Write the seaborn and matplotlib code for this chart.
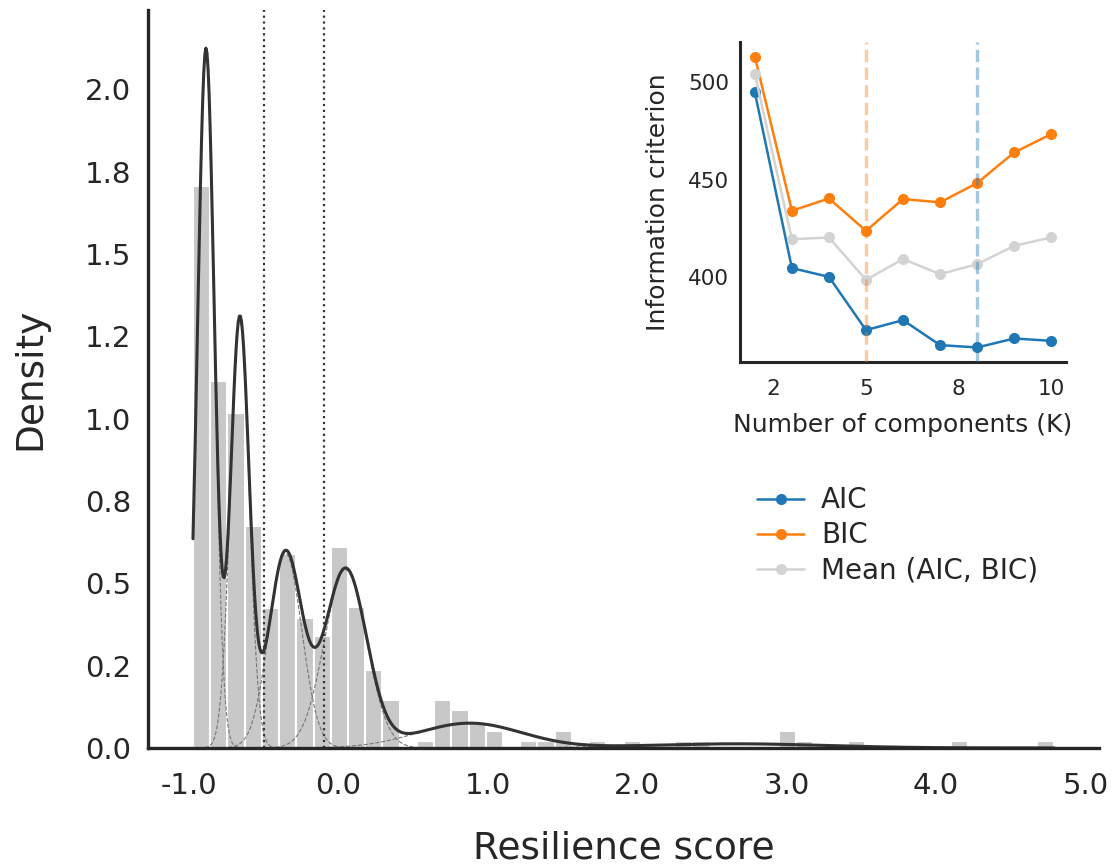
import numpy as np
import pandas as pd
import seaborn as sns
import matplotlib
matplotlib.use('Agg')
import matplotlib.pyplot as plt
from matplotlib.ticker import MultipleLocator, FormatStrFormatter

# histogram of resilience scores (density per bin)
bin_start = -0.970
bin_width = 0.1152
bar_heights = [1.707, 1.113, 1.018, 0.674, 0.426, 0.590, 0.396, 0.340, 0.610, 0.427,
               0.238, 0.145, 0.000, 0.022, 0.145, 0.115, 0.078, 0.053, 0.000, 0.022,
               0.022, 0.053, 0.000, 0.022, 0.000, 0.022, 0.000, 0.000, 0.022, 0.022,
               0.000, 0.000, 0.000, 0.000, 0.053, 0.022, 0.000, 0.000, 0.022, 0.000,
               0.000, 0.000, 0.000, 0.000, 0.022, 0.000, 0.000, 0.000, 0.000, 0.022]

# gaussian mixture components fitted on the scores
comp_means = [-0.883, -0.657, -0.352, 0.050, 0.880, 2.660]
comp_sds = [0.056, 0.062, 0.110, 0.140, 0.350, 0.600]
comp_weights = [0.298, 0.202, 0.163, 0.190, 0.066, 0.019]

# cluster boundaries
thresholds = [-0.495, -0.096]

# model selection (inset)
n_components = [2, 3, 4, 5, 6, 7, 8, 9, 10]
aic = [494.9, 404.8, 400.3, 373.0, 378.1, 365.3, 364.1, 368.7, 367.5]
bic = [513.3, 434.2, 440.5, 423.9, 440.2, 438.5, 448.4, 464.1, 473.5]
mean_ic = [504.3, 419.6, 420.5, 398.8, 409.4, 401.7, 406.8, 416.2, 420.5]
best_bic_k = 5
best_aic_k = 8


def gauss(x, mu, sd, w):
    return w * np.exp(-0.5 * ((x - mu) / sd) ** 2) / (sd * np.sqrt(2 * np.pi))


sns.set_style('white')
plt.rcParams['axes.edgecolor'] = '#262626'
plt.rcParams['text.color'] = '#262626'

fig = plt.figure(figsize=(11.15, 8.65), dpi=100)
ax = fig.add_axes([0.1327, 0.1353, 0.853, 0.853])

edges = bin_start + bin_width * np.arange(len(bar_heights) + 1)
hist_df = pd.DataFrame({'score': (edges[:-1] + edges[1:]) / 2,
                        'height': bar_heights})
sns.histplot(data=hist_df, x='score', weights='height', bins=list(edges),
             stat='count', color='#c8c8c8', edgecolor='white', linewidth=1.5,
             alpha=1, ax=ax)

xs = np.linspace(edges[0], edges[-1], 800)
total = np.zeros_like(xs)
for mu, sd, w in zip(comp_means, comp_sds, comp_weights):
    comp = gauss(xs, mu, sd, w)
    total += comp
    sns.lineplot(x=xs, y=comp, color='#777777', lw=0.8, ls='--', ax=ax)
sns.lineplot(x=xs, y=total, color='#333333', lw=2.2, ax=ax)

for t in thresholds:
    ax.axvline(t, color='#333333', ls=':', lw=1.6)

ax.set_xlim(-1.271, 5.09)
ax.set_ylim(0, 2.24)
ax.xaxis.set_major_locator(MultipleLocator(1))
ax.xaxis.set_major_formatter(FormatStrFormatter('%.1f'))
ax.yaxis.set_major_locator(MultipleLocator(0.25))
ax.yaxis.set_major_formatter(FormatStrFormatter('%.1f'))
ax.tick_params(length=0, labelsize=21, pad=12)
ax.tick_params(axis='x', pad=17)
ax.set_xlabel('Resilience score', fontsize=27, labelpad=22)
ax.set_ylabel('Density', fontsize=27, labelpad=26)
sns.despine(ax=ax)
for s in ['left', 'bottom']:
    ax.spines[s].set_linewidth(2.4)

# inset: information criteria vs K
ins = fig.add_axes([0.6637, 0.5815, 0.2924, 0.37])
sns.lineplot(x=n_components, y=aic, color='#1f77b4', marker='o', markersize=8,
             markeredgewidth=0, lw=1.8, label='AIC', ax=ins)
sns.lineplot(x=n_components, y=bic, color='#ff7f0e', marker='o', markersize=8,
             markeredgewidth=0, lw=1.8, label='BIC', ax=ins)
sns.lineplot(x=n_components, y=mean_ic, color='lightgray', marker='o', markersize=8,
             markeredgewidth=0, lw=1.8, label='Mean (AIC, BIC)', ax=ins)
ins.axvline(best_bic_k, color='#ff7f0e', alpha=0.4, ls='--', lw=2.4, zorder=5)
ins.axvline(best_aic_k, color='#1f77b4', alpha=0.4, ls='--', lw=2.4, zorder=5)
ins.xaxis.set_major_locator(MultipleLocator(2.5))
ins.xaxis.set_major_formatter(FormatStrFormatter('%.0f'))
ins.yaxis.set_major_locator(MultipleLocator(50))
ins.tick_params(length=0, labelsize=15.5, pad=8)
ins.tick_params(axis='x', pad=12)
ins.set_xlabel('Number of components (K)', fontsize=18, labelpad=10)
ins.set_ylabel('Information criterion', fontsize=18, labelpad=13)
sns.despine(ax=ins)
for s in ['left', 'bottom']:
    ins.spines[s].set_linewidth(2.2)

handles, labels = ins.get_legend_handles_labels()
ins.get_legend().remove()
fig.legend(handles, labels, loc='center left', bbox_to_anchor=(0.679, 0.381),
           frameon=False, fontsize=20, handlelength=1.7, handletextpad=0.6,
           labelspacing=0.25, borderpad=0, borderaxespad=0)

fig.savefig('out.png', dpi=100)
